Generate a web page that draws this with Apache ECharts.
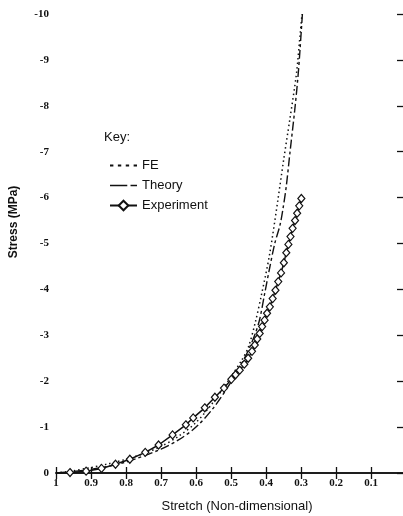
<!DOCTYPE html>
<html>
<head>
<meta charset="utf-8">
<script src="https://cdn.jsdelivr.net/npm/echarts@6/dist/echarts.min.js"></script>
<style>
  html, body { margin: 0; padding: 0; background: #fff; }
  #chart { width: 403px; height: 516px; }
</style>
</head>
<body>
<div id="chart"></div>
<script>
// Stretch (non-dimensional) vs. compressive stress (MPa)
const feStretch = [1.0, 0.95, 0.9, 0.85, 0.8, 0.75, 0.7, 0.65, 0.6, 0.55, 0.5, 0.47, 0.45, 0.43, 0.413, 0.39, 0.366, 0.35, 0.332, 0.313, 0.302, 0.297];
const feStress  = [0, -0.05, -0.12, -0.2, -0.3, -0.42, -0.58, -0.8, -1.1, -1.55, -2.1, -2.45, -2.75, -3.3, -3.88, -4.75, -5.95, -6.8, -7.7, -8.7, -9.6, -10];

const theoryStretch = [1.0, 0.9, 0.8, 0.7, 0.65, 0.6, 0.55, 0.5, 0.47, 0.45, 0.43, 0.418, 0.404, 0.39, 0.375, 0.36, 0.351, 0.342, 0.332, 0.318, 0.309, 0.303, 0.296];
const theoryStress  = [0, -0.08, -0.24, -0.52, -0.72, -1.0, -1.42, -1.98, -2.38, -2.68, -3.05, -3.35, -3.9, -4.45, -5.0, -5.4, -5.78, -6.25, -6.95, -7.9, -8.6, -9.2, -10];

const expStretch = [1.0, 0.96, 0.914, 0.87, 0.83, 0.789, 0.745, 0.707, 0.667, 0.629, 0.608, 0.575, 0.546, 0.52, 0.499, 0.487, 0.475, 0.462, 0.451, 0.44, 0.432, 0.425, 0.418, 0.411, 0.404, 0.397, 0.389, 0.381, 0.373, 0.365, 0.357, 0.349, 0.342, 0.336, 0.330, 0.324, 0.317, 0.311, 0.305, 0.299];
const expStress  = [0, -0.01, -0.04, -0.1, -0.19, -0.3, -0.45, -0.61, -0.83, -1.05, -1.2, -1.42, -1.65, -1.85, -2.04, -2.14, -2.24, -2.37, -2.5, -2.65, -2.79, -2.92, -3.04, -3.19, -3.33, -3.48, -3.62, -3.8, -3.98, -4.17, -4.36, -4.58, -4.8, -4.98, -5.15, -5.33, -5.5, -5.66, -5.82, -5.98];

const xTicks = [1, 0.9, 0.8, 0.7, 0.6, 0.5, 0.4, 0.3, 0.2, 0.1];
const yTicks = [0, -1, -2, -3, -4, -5, -6, -7, -8, -9, -10];

const pairs = (xs, ys) => xs.map((x, i) => [x, ys[i]]);

const tickFont = { fontFamily: 'Liberation Serif', fontWeight: 'bold', fontSize: 11, color: '#111' };
const sansFont = 'Liberation Sans';
const ink = '#111';

// legend keys drawn as short line samples
const feKey = 'path://M0,0h3v1.6h-3z M7,0h3v1.6h-3z M14,0h3v1.6h-3z M21,0h3v1.6h-3z';
const theoryKey = 'path://M0,0h16v1.6h-16z M19,0h6v1.6h-6z';

const chart = echarts.init(document.getElementById('chart'), null, { renderer: 'canvas' });

const expData = pairs(expStretch, expStress).map((p, i) =>
  i === 0 ? { value: p, symbol: 'none' } : p);

chart.setOption({
  animation: false,
  backgroundColor: '#fff',
  color: [ink, ink, ink],
  grid: { left: 56, top: 14, width: 350, height: 459, outerBoundsMode: 'none', containLabel: false },
  xAxis: [
    {
      type: 'value', position: 'bottom', inverse: true, min: 0, max: 1, interval: 0.1,
      axisLine: { show: true, lineStyle: { color: ink, width: 1.6 } },
      axisTick: { show: true, inside: true, length: 6, lineStyle: { color: ink, width: 1.3 } },
      axisLabel: {
        margin: 5, ...tickFont,
        formatter: v => {
          const r = Math.round(v * 10) / 10;
          return xTicks.includes(r) ? String(r) : '';
        }
      },
      splitLine: { show: false }
    },
    {
      type: 'value', position: 'top', inverse: true, min: 0, max: 1, interval: 0.1,
      axisLine: { show: true, lineStyle: { color: ink, width: 1.6 } },
      axisTick: { show: true, inside: true, length: 6, lineStyle: { color: ink, width: 1.3 } },
      axisLabel: { show: false },
      splitLine: { show: false }
    }
  ],
  yAxis: [
    {
      type: 'value', position: 'left', inverse: true, min: -10, max: 0, interval: 1,
      axisLine: { show: true, lineStyle: { color: ink, width: 1.6 } },
      axisTick: { show: true, inside: true, length: 7, lineStyle: { color: ink, width: 1.3 } },
      axisLabel: {
        margin: 7, ...tickFont,
        formatter: v => yTicks.includes(Math.round(v)) ? String(Math.round(v)) : ''
      },
      splitLine: { show: false }
    },
    {
      type: 'value', position: 'right', inverse: true, min: -10, max: 0, interval: 1,
      axisLine: { show: true, lineStyle: { color: ink, width: 1.6 } },
      axisTick: { show: true, inside: true, length: 9, lineStyle: { color: ink, width: 1.3 } },
      axisLabel: { show: false },
      splitLine: { show: false }
    }
  ],
  legend: {
    data: [
      { name: 'FE', icon: feKey },
      { name: 'Theory', icon: theoryKey },
      { name: 'Experiment' }
    ],
    orient: 'vertical',
    left: 104, top: 154,
    itemWidth: 27, itemHeight: 12, itemGap: 7,
    textStyle: { fontFamily: sansFont, fontSize: 13, color: ink }
  },
  graphic: [
    { type: 'text', left: 104, top: 131, style: { text: 'Key:', font: '13px "Liberation Sans"', fill: ink } },
    { type: 'text', x: 237, y: 506, style: { text: 'Stretch (Non-dimensional)', font: '13px "Liberation Sans"', fill: ink, align: 'center', verticalAlign: 'middle' } },
    { type: 'text', x: 14, y: 222, rotation: Math.PI / 2, style: { text: 'Stress (MPa)', font: 'bold 12px "Liberation Sans"', fill: ink, align: 'center', verticalAlign: 'middle' } }
  ],
  series: [
    {
      name: 'FE', type: 'line', data: pairs(feStretch, feStress),
      symbol: 'none', smooth: 0.3,
      itemStyle: { color: ink },
      lineStyle: { color: ink, width: 1.5, type: [1.5, 3] }
    },
    {
      name: 'Theory', type: 'line', data: pairs(theoryStretch, theoryStress),
      symbol: 'none', smooth: 0.3,
      itemStyle: { color: ink },
      lineStyle: { color: ink, width: 1.4, type: [9, 3, 3, 3] }
    },
    {
      name: 'Experiment', type: 'line', data: expData,
      symbol: 'diamond', symbolSize: [7, 8], z: 5,
      itemStyle: { color: '#fff', borderColor: ink, borderWidth: 1.2 },
      lineStyle: { color: ink, width: 1.5 }
    }
  ]
});
</script>
</body>
</html>
